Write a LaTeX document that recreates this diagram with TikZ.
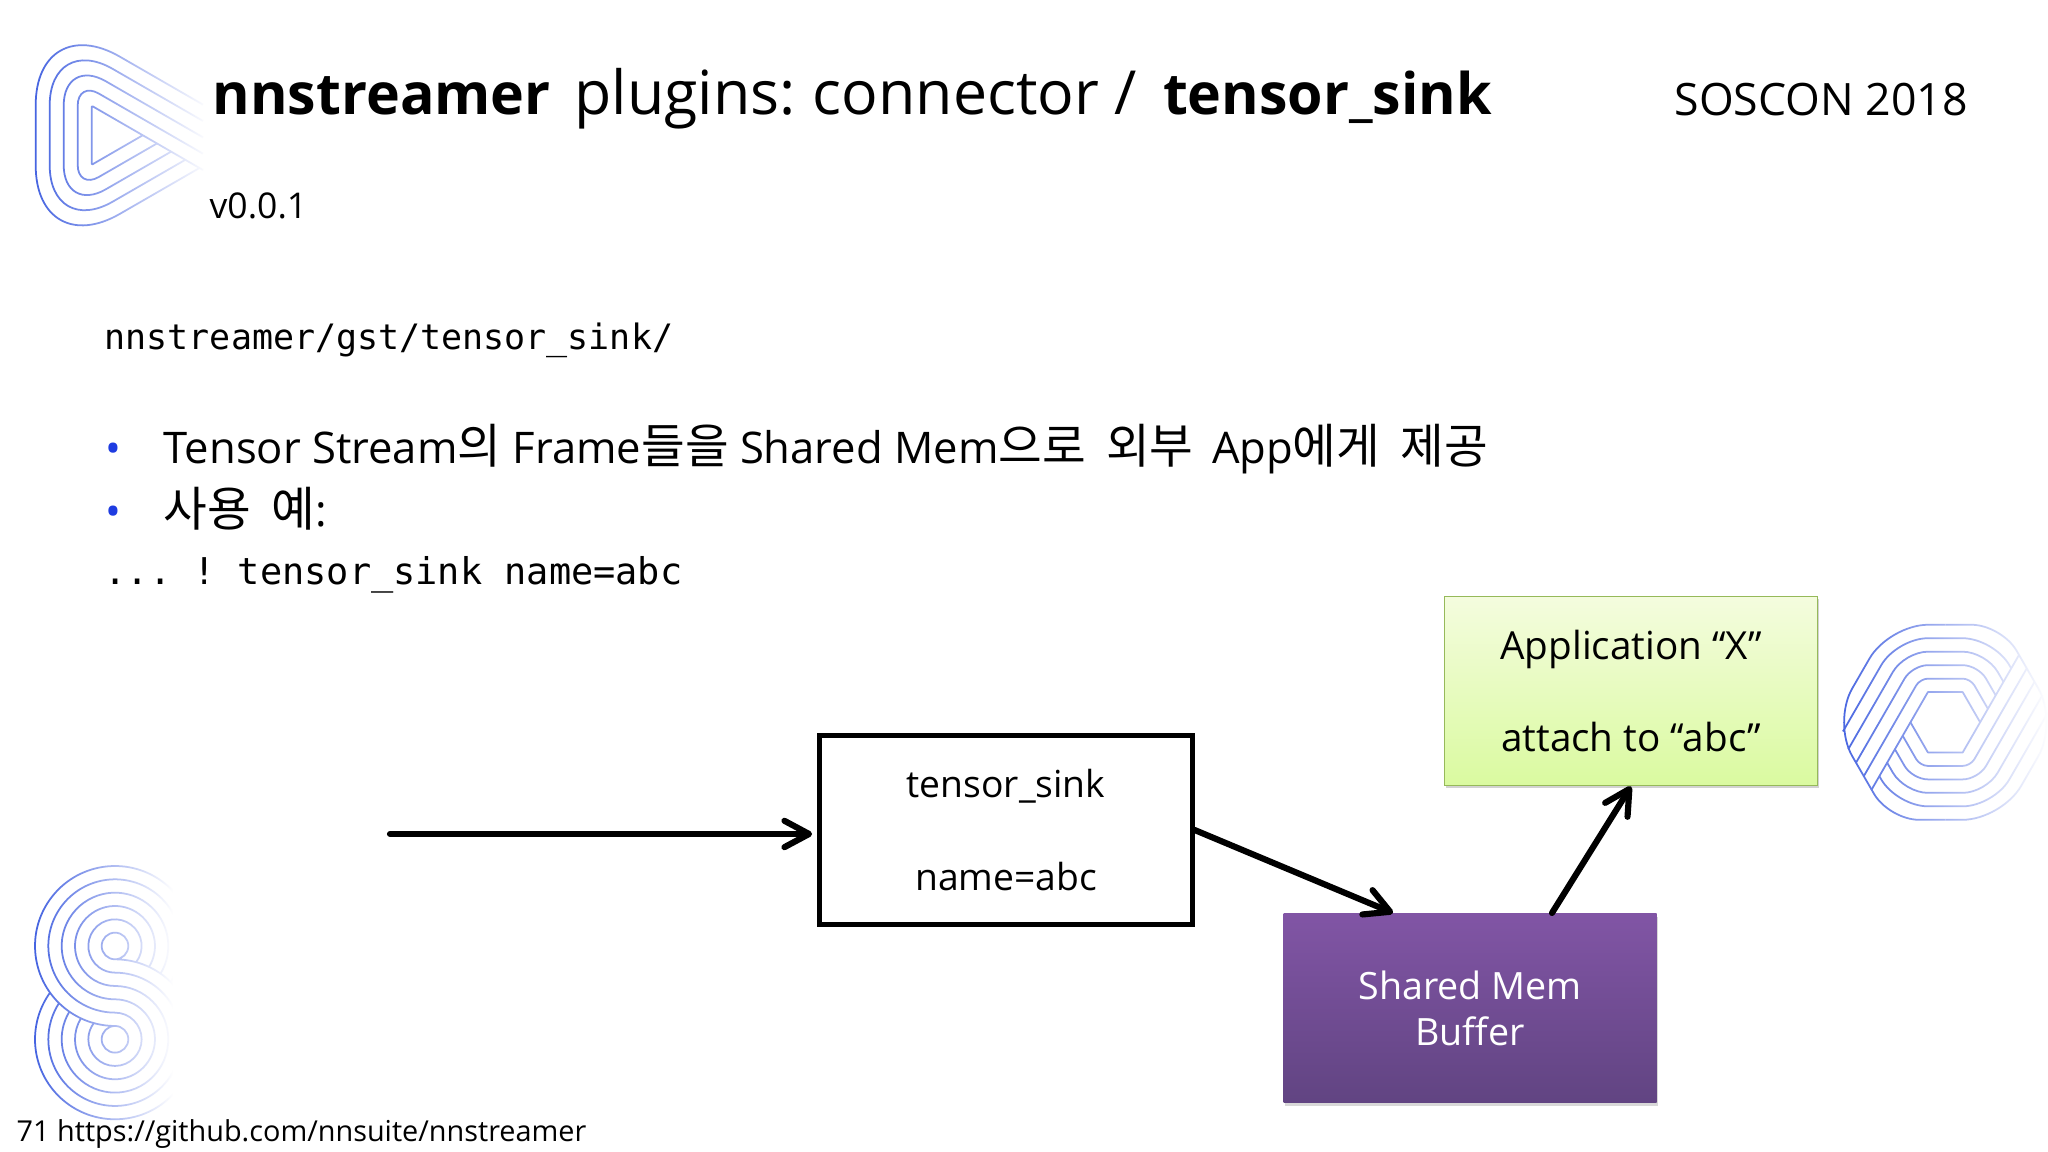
\documentclass[tikz,border=0pt]{standalone}
\usepackage{fontspec}
\setmainfont{Open Sans}
\newfontfamily\cjk[Scale=1.09,WordSpace=1.9]{Noto Sans CJK KR}
\newfontfamily\codefont{DejaVu Sans Mono}
\usetikzlibrary{arrows.meta,calc,fadings,shadows}

\definecolor{logoblue}{RGB}{70,100,225}
\definecolor{bulletblue}{RGB}{30,60,225}
\definecolor{buffertop}{RGB}{129,85,165}
\definecolor{bufferbottom}{RGB}{97,68,130}
\definecolor{appline}{RGB}{150,185,90}
\definecolor{apptop}{RGB}{244,252,222}
\definecolor{appbottom}{RGB}{218,250,160}
\tikzfading[name=fade logo, left color=transparent!100, right color=transparent!0]
\newcommand{\titlebold}[1]{{\fontsize{16.3}{20}\selectfont\bfseries #1}}

\tikzset{
    logoline/.style={draw=logoblue, line width=0.5pt, line join=round},
    logofade/.style={fill=white, path fading=fade logo},
    flow/.style={-{Straight Barb[round,length=7pt,width=7.5pt]}, line width=1.75pt, line cap=round},
    txt/.style={anchor=base west, inner sep=0pt},
    code/.style={txt, font=\codefont\fontsize{9.95}{12}\selectfont\frenchspacing},
    bullet/.style={txt, text=bulletblue, font=\fontsize{12}{14}\selectfont},
    bodytext/.style={txt, font=\fontsize{12.4}{15}\selectfont},
    boxtext/.style={font=\fontsize{10.6}{26.4}\selectfont, align=center, minimum width=3.73cm, minimum height=1.89cm, inner sep=0pt},
    sinkbox/.style={boxtext, draw=black, line width=1.2pt},
    appbox/.style={boxtext, font=\fontsize{11}{26.4}\selectfont, draw=appline, line width=0.5pt, top color=apptop, bottom color=appbottom,
        drop shadow={shadow xshift=0.3pt, shadow yshift=-0.8pt, opacity=0.35}},
    bufferbox/.style={boxtext, text=white, font=\fontsize{10.7}{13}\selectfont, top color=buffertop, bottom color=bufferbottom,
        drop shadow={shadow xshift=0.3pt, shadow yshift=-0.8pt, opacity=0.3}},
}

\begin{document}
\begin{tikzpicture}
    \useasboundingbox (0,0) rectangle (20.48,11.52);
    \fill [white] (0,0) rectangle (20.48,11.52);

    % play logo
    \foreach \k in {0,...,4} {
        \pgfmathsetmacro\xl{0.917-0.14*\k}
        \pgfmathsetmacro\yh{0.295+0.244*\k}
        \pgfmathsetmacro\rc{max(0.01,0.2425*\k)}
        \pgfmathsetmacro\yt{10.167+0.295+0.1635*\k-(2.03-0.917)*0.577}
        \pgfmathsetmacro\xb{0.917+0.511+0.1417*\k}
        \pgfmathsetmacro\yb{10.167-0.0818*\k}
        \draw [logoline, rounded corners=\rc cm] (\xb,\yb) -- (\xl,10.167-\yh) -- (\xl,10.167+\yh) -- (2.03,\yt);
    }
    \path [logofade] (0.34,8.9) rectangle (2.08,11.5);

    % hexagon logo
    \foreach \rot in {0,180} {
        \begin{scope}[shift={(19.453,4.297)},rotate=\rot]
            \pgfmathsetmacro\az{0.3017}
            \pgfmathsetmacro\af{0.3017+5*0.1347}
            \foreach \k in {1,...,4} {
                \pgfmathsetmacro\a{0.3017+0.1347*\k}
                \pgfmathsetmacro\rc{0.0777*\k}
                \pgfmathsetmacro\s{\k==4 ? 0.05 : 0}
                \draw [logoline, rounded corners=\rc cm] ({-(\a+\af)/1.732+\s*0.5},{\a-\af+\s*0.866}) -- ({-\a/1.732},\a) -- ({\a/1.732},\a) -- ({(\a+\az)/1.732},{\a-\az});
            }
            \pgfmathsetmacro\cx{(\af+\az)/1.732}
            \pgfmathsetmacro\cy{\af-\az}
            \draw [logoline, rounded corners=0.39cm] ({-\cx},{-\cy}) -- ({-\af/0.866},0) -- ({-\af/1.732},\af) -- (0,\af);
            \draw [logoline, rounded corners=0.3cm] (0,\af) -- ({\af/1.732},\af) -- (\cx,\cy);
            \draw [logoline] (\cx,\cy) -- ({\az/1.732},-\az) -- ({-\az/1.732},-\az) -- ({-\az/0.866},0);
        \end{scope}
    }
    \path [logofade] (18.38,2.9) rectangle (20.48,5.5);

    % figure-eight logo
    \foreach \k in {1,...,6} {
        \pgfmathsetmacro\ya{(-13-\k*\k)/14}
        \pgfmathsetmacro\ta{atan2(\ya,sqrt(abs(\k*\k-\ya*\ya)))}
        \pgfmathsetmacro\m{7-\k}
        \pgfmathsetmacro\yb{(-13-\m*\m)/14}
        \pgfmathsetmacro\tb{atan2(\yb,sqrt(abs(\m*\m-\yb*\yb)))-180}
        \pgfmathsetmacro\ru{0.1333*\k}
        \pgfmathsetmacro\rl{0.1333*\m}
        \draw [logoline] ([shift={(1.15,2.06)}]\ta:\ru) arc (\ta:270:\ru) arc (90:\tb:\rl);
    }
    \path [logofade] (0.35,0.2) rectangle (1.73,3.1);
    \fill [white] (1.73,0.2) rectangle (2.1,3.1);

    % header
    \node [txt, font=\fontsize{17.3}{20}\selectfont] (title) at (2.12,10.37) {\titlebold{nnstreamer}\hspace{0.08cm} plugins:\hspace{-0.04cm} connector /\hspace{0.1cm} \titlebold{tensor\_sink}};
    \node [txt, font=\fontsize{12.7}{15}\selectfont] (conf) at (16.74,10.36) {SOSCON 2018};
    \node [txt, font=\fontsize{10.1}{13}\selectfont] (version) at (2.09,9.33) {v0.0.1};

    % body text
    \node [code] (srcpath) at (1.04,8.02) {nnstreamer/gst/tensor\_sink/};
    \node [bullet] (bulletone) at (1.05,6.88) {•};
    \node [bodytext] (lineone) at (1.63,6.88) {Tensor Stream{\cjk 의} Frame{\cjk 들을} Shared Mem{\cjk 으로 외부}\hspace{0.07cm} App{\cjk 에게 제공}};
    \node [bullet] (bullettwo) at (1.05,6.25) {•};
    \node [bodytext] (linetwo) at (1.63,6.25) {{\cjk 사용 예}:};
    \node [code, font=\codefont\fontsize{10.5}{12}\selectfont\frenchspacing] (usage) at (1.04,5.67) {... ! tensor\_sink name=abc};

    % flow
    \node [sinkbox] (sink) at (10.06,3.22) {tensor\_sink\\name=abc};
    \node [appbox] (app) at (16.31,4.61) {Application “X”\\attach to “abc”};
    \node [bufferbox] (buffer) at (14.70,1.435) {Shared Mem\\Buffer};
    \coordinate (input) at (3.90,3.18);
    \coordinate (bufferin) at (13.93,2.39);
    \coordinate (bufferout) at (15.52,2.39);
    \draw [flow, shorten >=1.5pt] (input) -- (input -| sink.west);
    \draw [flow] (sink.east) -- (bufferin);
    \draw [flow] (bufferout) -- (app.south);

    % footer
    \node [txt, font=\fontsize{8.2}{10}\selectfont] (footer) at (0.16,0.10) {71 https://github.com/nnsuite/nnstreamer};
\end{tikzpicture}
\end{document}
